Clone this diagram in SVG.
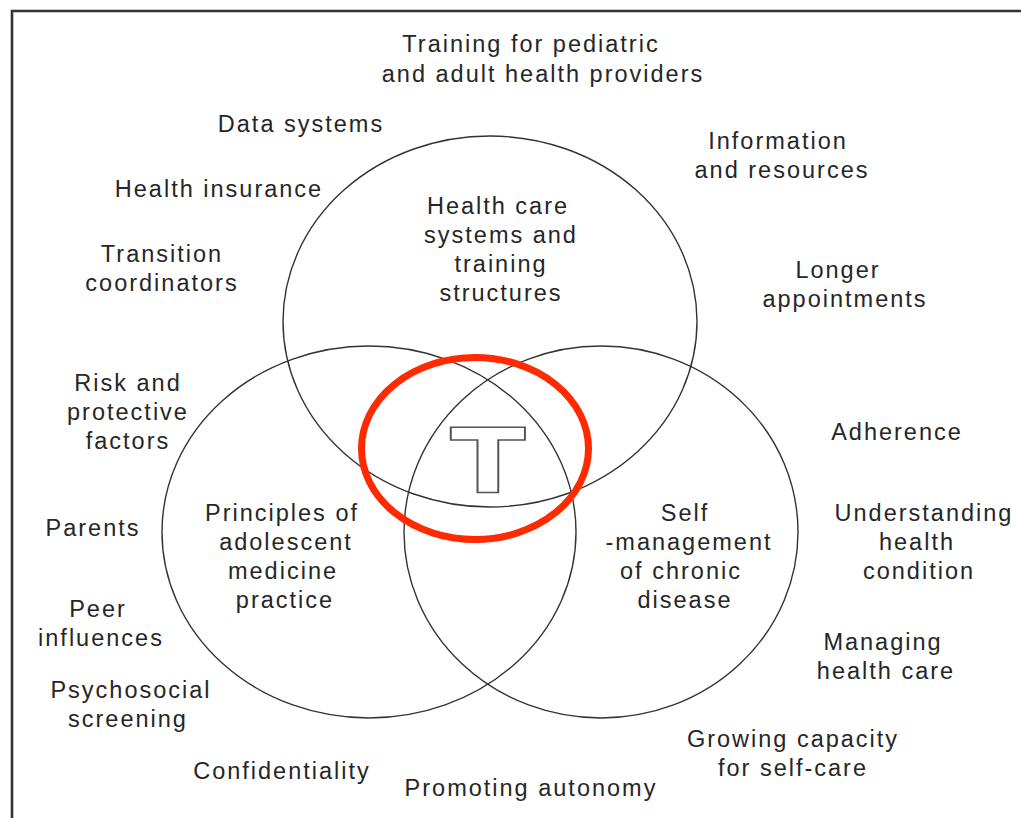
<svg xmlns="http://www.w3.org/2000/svg" width="1021" height="818" viewBox="0 0 1021 818">
  <style>
    .lbl { font-family: "Liberation Sans", Arial, sans-serif; font-size: 23.5px; letter-spacing: 2px; fill: #262626; text-anchor: middle; }
    .ring { fill: none; stroke: #333; stroke-width: 1.4; }
  </style>
  <rect width="1021" height="818" fill="#fff"/>
  <!-- frame: top and left edges -->
  <path d="M12 818 V11 H1021" fill="none" stroke="#333" stroke-width="2.6"/>

  <!-- outer items -->
  <g id="outer-labels">
    <text class="lbl" x="531" y="52">Training for pediatric</text>
    <text class="lbl" x="543" y="82">and adult health providers</text>
    <text class="lbl" x="301" y="132">Data systems</text>
    <text class="lbl" x="219" y="197">Health insurance</text>
    <text class="lbl" x="162" y="262">Transition</text>
    <text class="lbl" x="162" y="291">coordinators</text>
    <text class="lbl" x="778" y="149">Information</text>
    <text class="lbl" x="782" y="178">and resources</text>
    <text class="lbl" x="838" y="278">Longer</text>
    <text class="lbl" x="845" y="307">appointments</text>
    <text class="lbl" x="128" y="391">Risk and</text>
    <text class="lbl" x="128" y="420">protective</text>
    <text class="lbl" x="128" y="449">factors</text>
    <text class="lbl" x="93" y="536">Parents</text>
    <text class="lbl" x="98" y="617">Peer</text>
    <text class="lbl" x="101" y="646">influences</text>
    <text class="lbl" x="131" y="698">Psychosocial</text>
    <text class="lbl" x="128" y="727">screening</text>
    <text class="lbl" x="282" y="779">Confidentiality</text>
    <text class="lbl" x="531" y="796">Promoting autonomy</text>
    <text class="lbl" x="793" y="747">Growing capacity</text>
    <text class="lbl" x="793" y="776">for self-care</text>
    <text class="lbl" x="883" y="650">Managing</text>
    <text class="lbl" x="886" y="679">health care</text>
    <text class="lbl" x="897" y="440">Adherence</text>
    <text class="lbl" x="924" y="521">Understanding</text>
    <text class="lbl" x="917" y="550">health</text>
    <text class="lbl" x="919" y="579">condition</text>
  </g>

  <g id="systems">
    <ellipse class="ring" cx="490" cy="321.5" rx="207" ry="185.5"/>
    <text class="lbl" x="498" y="214">Health care</text>
    <text class="lbl" x="501" y="243">systems and</text>
    <text class="lbl" x="501" y="272">training</text>
    <text class="lbl" x="501" y="301">structures</text>
  </g>

  <g id="adolescent">
    <ellipse class="ring" cx="369" cy="532" rx="207" ry="186"/>
    <text class="lbl" x="282" y="521">Principles of</text>
    <text class="lbl" x="286" y="550">adolescent</text>
    <text class="lbl" x="283" y="579">medicine</text>
    <text class="lbl" x="285" y="608">practice</text>
  </g>

  <g id="self-management">
    <ellipse class="ring" cx="601" cy="532" rx="197" ry="186"/>
    <text class="lbl" x="685" y="521">Self</text>
    <text class="lbl" x="689" y="550">-management</text>
    <text class="lbl" x="681" y="579">of chronic</text>
    <text class="lbl" x="685" y="608">disease</text>
  </g>

  <g id="transition">
    <text x="0" y="0" transform="translate(488 492) scale(1.24 1)" font-family="DejaVu Sans, sans-serif" font-weight="bold" font-size="89" text-anchor="middle" fill="#fff" stroke="#555" stroke-width="1.6">T</text>
    <ellipse cx="475" cy="448.5" rx="113.5" ry="91" fill="none" stroke="#ff2a00" stroke-width="7"/>
  </g>
</svg>
